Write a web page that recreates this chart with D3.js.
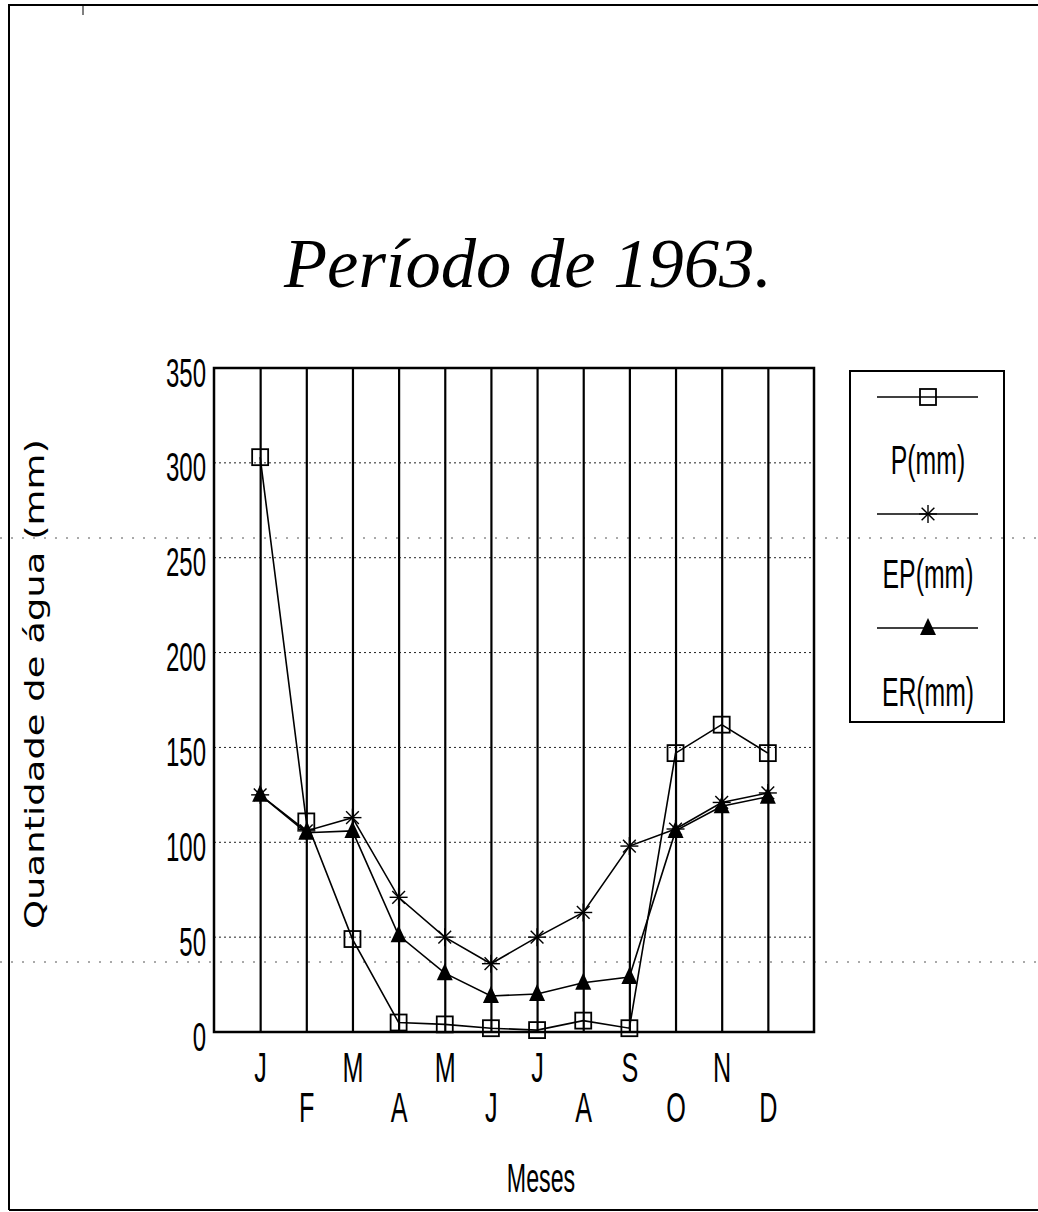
<!DOCTYPE html>
<html><head><meta charset="utf-8">
<script src="https://cdn.jsdelivr.net/npm/d3@7"></script>
<style>body{margin:0;background:#fff}svg{display:block}</style>
</head><body>
<svg id="c" width="1038" height="1212"></svg>
<script>
const monthKeys = ["Jan","Fev","Mar","Abr","Mai","Jun","Jul","Ago","Set","Out","Nov","Dez"];
const monthLabels = ["J","F","M","A","M","J","J","A","S","O","N","D"];
const pValues  = [303, 111, 49, 5, 4, 2, 1, 6, 2, 147, 162, 147];
const epValues = [125, 106, 113, 71, 50, 36, 50, 63, 98, 107, 121, 126];
const erValues = [125, 105, 106, 51, 31, 19, 20, 26, 29, 106, 119, 124];
const yTicks = [0, 50, 100, 150, 200, 250, 300, 350];
const seriesNames = ["P(mm)", "EP(mm)", "ER(mm)"];
const titleText = "Período de 1963.";
const yTitle = "Quantidade de água (mm)";
const xTitle = "Meses";

const svg = d3.select("#c");
const L = 214, R = 814, T = 368, B = 1032;
const x = d3.scalePoint().domain(monthKeys).range([L, R]).padding(1);
const y = d3.scaleLinear().domain([0, 350]).range([B, T]);
const SX = 0.6;
const condFont = "'Liberation Sans', Arial, sans-serif";

// page border
svg.append("path").attr("d", "M9,1210 L9,5 L1038,5").attr("fill","none").attr("stroke","#000").attr("stroke-width",2);
svg.append("path").attr("d", "M9,1210 L1038,1210").attr("fill","none").attr("stroke","#000").attr("stroke-width",2);
svg.append("line").attr("x1",83).attr("x2",83).attr("y1",5).attr("y2",15).attr("stroke","#000").attr("stroke-width",1);
// scan artefact dotted lines
[538, 962].forEach(yy => svg.append("line").attr("x1",0).attr("x2",1038).attr("y1",yy).attr("y2",yy)
  .attr("stroke","#555").attr("stroke-width",1).attr("stroke-dasharray","2,9"));

// title
svg.append("text").attr("x", 528).attr("y", 287).attr("text-anchor","middle")
  .attr("font-family","'Liberation Serif', 'DejaVu Serif', serif").attr("font-style","italic")
  .attr("font-size", 70).attr("textLength", 488).attr("lengthAdjust","spacingAndGlyphs")
  .text(titleText);

// horizontal dotted grid
svg.append("g").selectAll("line").data(yTicks.filter(d => d > 0 && d < 350)).join("line")
  .attr("x1", L).attr("x2", R).attr("y1", d => y(d)).attr("y2", d => y(d))
  .attr("stroke","#222").attr("stroke-width",1).attr("stroke-dasharray","2,3");

// vertical month lines via axis
const vg = svg.append("g").attr("transform", `translate(0,${B})`)
  .call(d3.axisBottom(x).tickSize(-(B - T)).tickFormat(""));
vg.select(".domain").remove();
vg.selectAll(".tick line").attr("stroke","#000").attr("stroke-width",2.2);

// frame
svg.append("rect").attr("x", L).attr("y", T).attr("width", R - L).attr("height", B - T)
  .attr("fill","none").attr("stroke","#000").attr("stroke-width",2.5);

// y axis labels
const ya = svg.append("g").attr("transform", `translate(${L},0)`)
  .call(d3.axisLeft(y).tickValues(yTicks).tickSize(0).tickPadding(0));
ya.select(".domain").remove();
ya.selectAll(".tick text")
  .attr("font-family", condFont).attr("font-size", 40).attr("fill","#000")
  .attr("text-anchor","end").attr("x", -8 / SX).attr("dy", "0.45em")
  .attr("transform", `scale(${SX},1)`);

// x axis labels (two staggered rows)
const xa = svg.append("g").attr("transform", `translate(0,${B})`)
  .call(d3.axisBottom(x).tickSize(0).tickFormat((d, i) => monthLabels[i]));
xa.select(".domain").remove();
xa.selectAll(".tick").each(function(d, i) {
  const t = d3.select(this).select("text");
  t.attr("font-family", condFont).attr("font-size", 42).attr("fill","#000")
   .attr("text-anchor","middle").attr("x", 0).attr("y", i % 2 === 0 ? 50 : 90).attr("dy", 0)
   .attr("transform", `scale(${SX},1)`);
});

// x title
svg.append("text").attr("transform", `translate(${(L+R)/2 + 27},1192) scale(0.58,1)`)
  .attr("text-anchor","middle").attr("font-family", condFont).attr("font-size", 40).text(xTitle);

// y title
svg.append("text").attr("transform", "translate(44,684) rotate(-90)")
  .attr("text-anchor","middle").attr("font-family","'DejaVu Sans', 'Noto Sans', sans-serif")
  .attr("font-size", 27).attr("textLength", 490).attr("lengthAdjust","spacingAndGlyphs")
  .text(yTitle);

// series
const series = [pValues, epValues, erValues];
const line = d3.line().x((d, i) => x(monthKeys[i])).y(d => y(d));
series.forEach(vals => {
  svg.append("path").datum(vals).attr("d", line).attr("fill","none")
    .attr("stroke","#000").attr("stroke-width",1.6);
});

function drawMarker(g, kind, cx, cy) {
  if (kind === 0) {
    g.append("rect").attr("x", cx - 8).attr("y", cy - 8).attr("width", 16).attr("height", 16)
      .attr("fill","none").attr("stroke","#000").attr("stroke-width",1.8);
  } else if (kind === 1) {
    const r = 9;
    [0, 45, 90, 135].forEach(a => {
      const rad = a * Math.PI / 180;
      g.append("line").attr("x1", cx - r * Math.cos(rad)).attr("y1", cy - r * Math.sin(rad))
        .attr("x2", cx + r * Math.cos(rad)).attr("y2", cy + r * Math.sin(rad))
        .attr("stroke","#000").attr("stroke-width",1.4);
    });
  } else {
    g.append("path").attr("d", `M${cx},${cy - 10} L${cx + 8},${cy + 7} L${cx - 8},${cy + 7} Z`)
      .attr("fill","#000");
  }
}
const mg = svg.append("g");
series.forEach((vals, k) => vals.forEach((v, i) => drawMarker(mg, k, x(monthKeys[i]), y(v))));

// legend
const lg = svg.append("g");
lg.append("rect").attr("x", 850).attr("y", 371).attr("width", 154).attr("height", 351)
  .attr("fill","none").attr("stroke","#000").attr("stroke-width",2);
const legLineY = [397, 514, 628];
const legTextY = [474, 588, 706];
seriesNames.forEach((name, k) => {
  lg.append("line").attr("x1", 877).attr("x2", 978).attr("y1", legLineY[k]).attr("y2", legLineY[k])
    .attr("stroke","#000").attr("stroke-width",1.6);
  drawMarker(lg, k, 928, legLineY[k]);
  lg.append("text").attr("transform", `translate(928,${legTextY[k]}) scale(0.62,1)`)
    .attr("text-anchor","middle").attr("font-family", condFont).attr("font-size", 40).text(name);
});
</script>
</body></html>
